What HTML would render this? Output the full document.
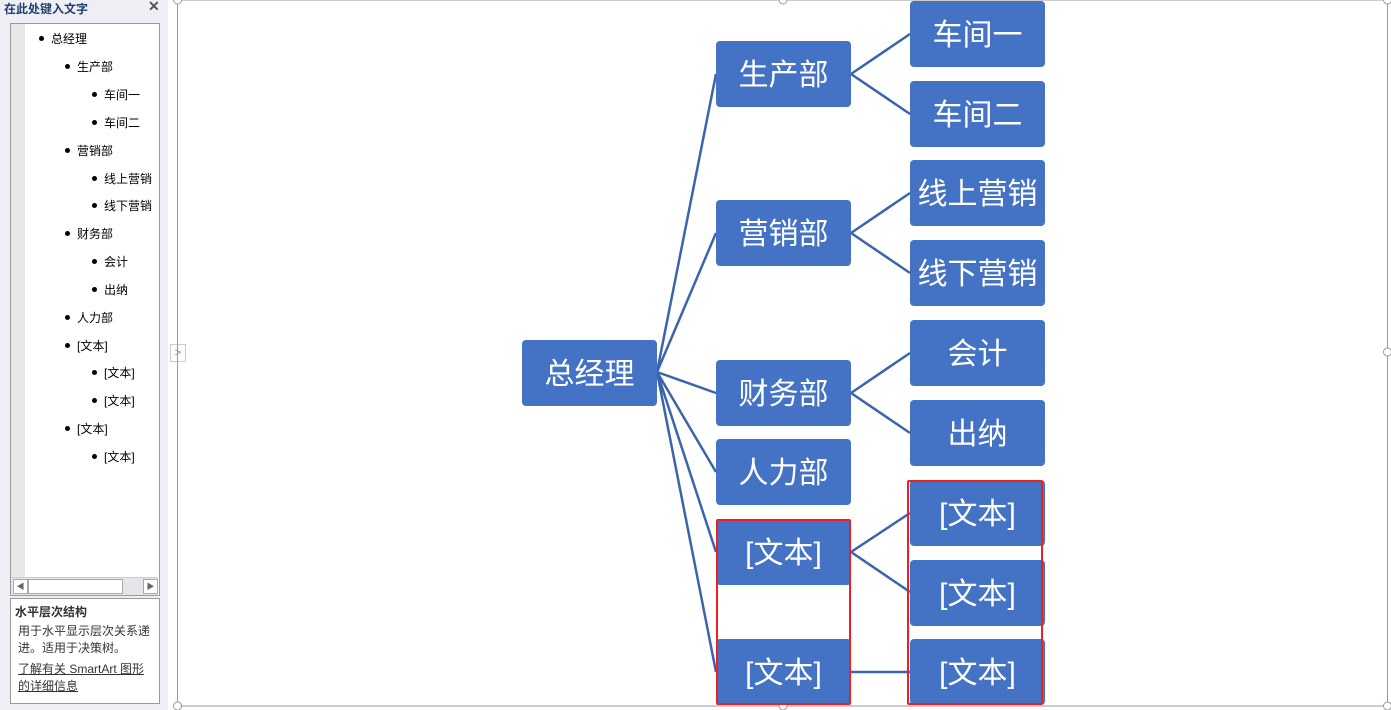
<!DOCTYPE html>
<html><head><meta charset="utf-8"><style>
body{margin:0;width:1391px;height:710px;position:relative;overflow:hidden;background:#fff;font-family:"Liberation Sans","Noto Sans CJK SC",sans-serif}
.p{position:absolute}
.box{position:absolute;background:#4472c4;color:#fff;border-radius:4px;display:flex;align-items:center;justify-content:center;font-size:30px;width:135px;height:62px;padding-bottom:4px}
.li{position:absolute;font-size:12px;color:#000;white-space:nowrap}
.li:before{content:"";position:absolute;left:-12px;top:6px;width:5px;height:5px;border-radius:50%;background:#000}
</style></head><body>
<div class="p" style="left:0;top:0;width:168px;height:710px;background:#eeeff5"></div>
<div class="p" style="left:4px;top:0;font-size:12px;font-weight:bold;color:#1f3f73">在此处键入文字</div>
<div class="p" style="left:148px;top:-2px;font-size:14px;color:#555;font-weight:bold">✕</div>
<div class="p" style="left:10px;top:23px;width:148px;height:571px;border:1px solid #999;background:#fff"></div>
<div class="p" style="left:11px;top:24px;width:14px;height:553px;background:#e8e8e8"></div>
<div class="li" style="left:51px;top:30px">总经理</div>
<div class="li" style="left:77px;top:58px">生产部</div>
<div class="li" style="left:104px;top:86px">车间一</div>
<div class="li" style="left:104px;top:114px">车间二</div>
<div class="li" style="left:77px;top:142px">营销部</div>
<div class="li" style="left:104px;top:170px">线上营销</div>
<div class="li" style="left:104px;top:197px">线下营销</div>
<div class="li" style="left:77px;top:225px">财务部</div>
<div class="li" style="left:104px;top:253px">会计</div>
<div class="li" style="left:104px;top:281px">出纳</div>
<div class="li" style="left:77px;top:309px">人力部</div>
<div class="li" style="left:77px;top:337px">[文本]</div>
<div class="li" style="left:104px;top:364px">[文本]</div>
<div class="li" style="left:104px;top:392px">[文本]</div>
<div class="li" style="left:77px;top:420px">[文本]</div>
<div class="li" style="left:104px;top:448px">[文本]</div>
<div class="p" style="left:11px;top:577px;width:147px;height:17px;background:#e6e6ea;border-top:1px solid #ccc"></div>
<div class="p" style="left:13px;top:579px;width:13px;height:13px;border:1px solid #aaa;background:#fff;font-size:8px;line-height:13px;text-align:center;color:#666">◀</div>
<div class="p" style="left:28px;top:579px;width:93px;height:13px;border:1px solid #aaa;background:#fff"></div>
<div class="p" style="left:143px;top:579px;width:13px;height:13px;border:1px solid #aaa;background:#fff;font-size:8px;line-height:13px;text-align:center;color:#666">▶</div>
<div class="p" style="left:10px;top:598px;width:148px;height:104px;border:1px solid #999;background:#fff"></div>
<div class="p" style="left:15px;top:603px;font-size:12px;font-weight:bold;color:#333">水平层次结构</div>
<div class="p" style="left:18px;top:623px;font-size:12px;line-height:17px;color:#333;width:136px">用于水平显示层次关系递进。适用于决策树。</div>
<div class="p" style="left:18px;top:661px;font-size:12px;line-height:17px;color:#333;text-decoration:underline;width:134px">了解有关 SmartArt 图形<br>的详细信息</div>
<div class="p" style="left:170px;top:344px;width:14px;height:16px;border:1px solid #ccc;background:#fff;font-size:11px;color:#888;text-align:center;line-height:16px">&gt;</div>
<svg class="p" style="left:0;top:0" width="1391" height="710">
<rect x="177.5" y="0" width="1210" height="706" fill="none" stroke="#999"/>
<g fill="#fff" stroke="#999"><circle cx="177.5" cy="0" r="4"/><circle cx="783" cy="0" r="4"/><circle cx="1387.5" cy="0" r="4"/><circle cx="1387.5" cy="352" r="4"/><circle cx="177.5" cy="706" r="4"/><circle cx="783" cy="706" r="4"/><circle cx="1387.5" cy="706" r="4"/></g>
<g stroke="#3c64ae" stroke-width="2.5" fill="none">
<path d="M657 372L716 74M657 372L716 233M657 372L716 393M657 372L716 472M657 372L716 552M657 372L716 672"/>
<path d="M851 74L910 34M851 74L910 114M851 233L910 193M851 233L910 273M851 393L910 353M851 393L910 433M851 552L910 513M851 552L910 592M851 672L910 672"/>
</g>
</svg>
<div class="box" style="left:522px;top:340px">总经理</div>
<div class="box" style="left:716px;top:41px">生产部</div>
<div class="box" style="left:716px;top:200px">营销部</div>
<div class="box" style="left:716px;top:360px">财务部</div>
<div class="box" style="left:716px;top:439px">人力部</div>
<div class="box" style="left:716px;top:519px">[文本]</div>
<div class="box" style="left:716px;top:639px">[文本]</div>
<div class="box" style="left:910px;top:1px">车间一</div>
<div class="box" style="left:910px;top:81px">车间二</div>
<div class="box" style="left:910px;top:160px">线上营销</div>
<div class="box" style="left:910px;top:240px">线下营销</div>
<div class="box" style="left:910px;top:320px">会计</div>
<div class="box" style="left:910px;top:400px">出纳</div>
<div class="box" style="left:910px;top:480px">[文本]</div>
<div class="box" style="left:910px;top:560px">[文本]</div>
<div class="box" style="left:910px;top:639px">[文本]</div>
<div class="p" style="left:716px;top:519px;width:131px;height:182px;border:2px solid #f01f1f;border-radius:2px"></div>
<div class="p" style="left:907px;top:480px;width:132px;height:221px;border:2px solid #f01f1f;border-radius:2px"></div>
</body></html>
